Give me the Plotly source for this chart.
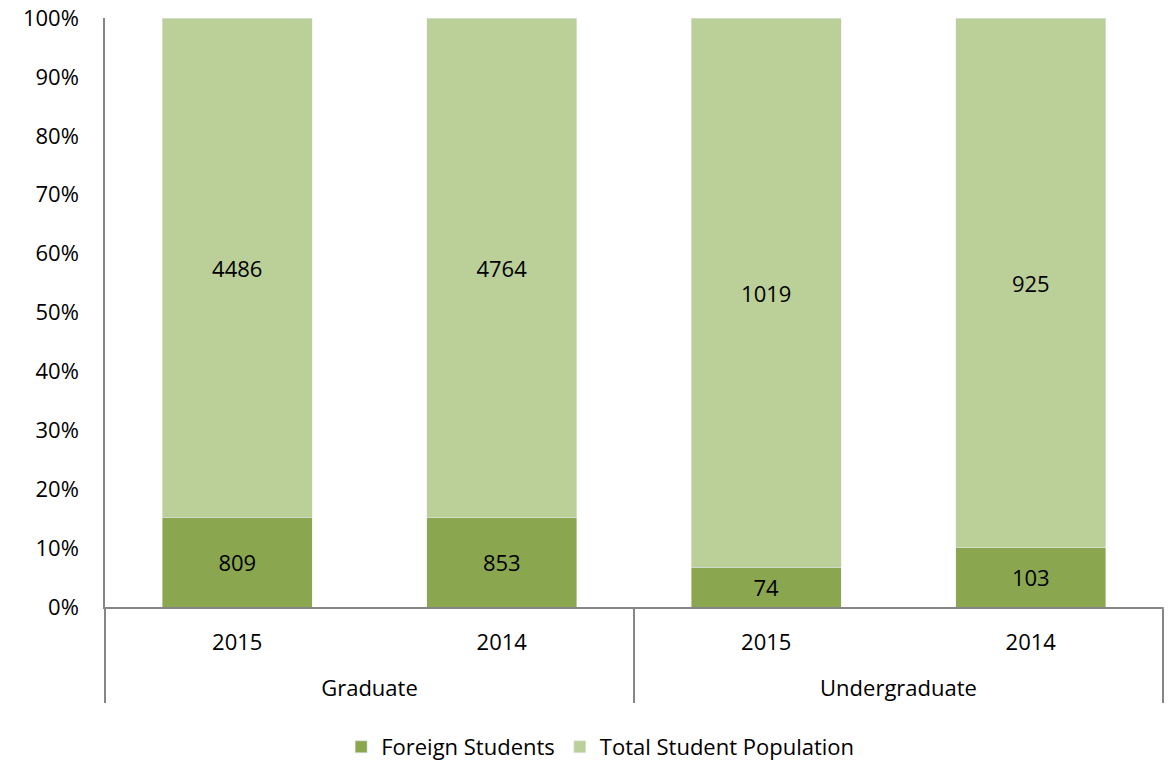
import plotly.graph_objects as go

levels = ["Graduate", "Graduate", "Undergraduate", "Undergraduate"]
years = ["2015", "2014", "2015", "2014"]
foreign = [809, 853, 74, 103]
total = [4486, 4764, 1019, 925]

FONT = "Open Sans"
FS = 22
group_labels = ["<br>" + g for g in levels]
x = [group_labels, years]

fig = go.Figure()
fig.add_trace(go.Bar(
    x=x, y=foreign, name="Foreign Students", marker_color="#8AA64E",
    text=foreign, textposition="inside", insidetextanchor="middle",
    textangle=0, constraintext="none",
    textfont=dict(color="black", size=FS, family=FONT)))
fig.add_trace(go.Bar(
    x=x, y=total, name="Total Student Population", marker_color="#BBCF99",
    text=total, textposition="inside", insidetextanchor="middle",
    textangle=0, constraintext="none",
    textfont=dict(color="black", size=FS, family=FONT)))

fig.update_layout(
    barmode="stack", barnorm="percent", bargap=0.433,
    width=1173, height=764,
    margin=dict(l=105, r=10, t=18, b=157, autoexpand=False),
    plot_bgcolor="white", paper_bgcolor="white",
    font=dict(family=FONT, size=FS, color="black"),
    showlegend=True,
    legend=dict(orientation="h", x=0.468, xanchor="center",
                yref="container", y=1 - 747 / 764, yanchor="middle",
                font=dict(size=FS), traceorder="normal", itemwidth=30),
)
fig.update_yaxes(range=[0, 100], dtick=10, ticksuffix="%", showgrid=False,
                 showline=True, linecolor="#868686", linewidth=1.5,
                 ticks="outside", ticklen=20, tickcolor="rgba(0,0,0,0)",
                 ticklabeloverflow="allow",
                 zeroline=False, tickfont=dict(size=FS), automargin=False)
fig.update_xaxes(showline=True, linecolor="#868686", linewidth=1.5,
                 showdividers=True, dividercolor="#868686", dividerwidth=1.5,
                 tickfont=dict(size=FS), ticks="", ticklabelstandoff=15,
                 automargin=False)
fig.add_shape(type="line", xref="paper", yref="paper", x0=1, x1=1, y0=0, y1=-0.163,
              line=dict(color="#868686", width=1.5))

fig.write_html(
    "out.html",
    config={"displayModeBar": False},
    post_script="document.body.style.margin='0';document.body.style.overflow='hidden';",
)
